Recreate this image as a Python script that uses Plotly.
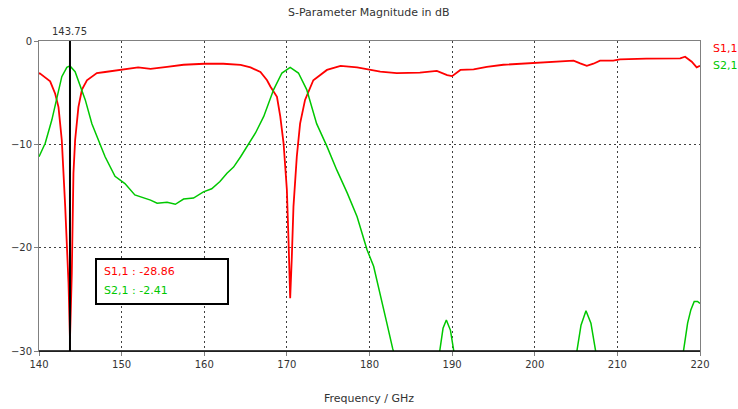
import plotly.graph_objects as go

# S1,1 (reflection) data, GHz / dB
s11_freq = [140.0, 140.1, 141.35, 141.96, 142.36, 142.76, 143.17, 143.37, 143.57, 143.75, 143.97, 144.17,
            144.37, 144.77, 145.2, 145.8, 147.0, 148.0, 150.0, 152.0, 153.5, 154.3, 155.5, 157.5, 160.0,
            162.3, 164.4, 165.6, 166.8, 167.6, 168.0, 168.8, 169.2, 169.6, 170.0, 170.2, 170.4, 170.6,
            170.8, 171.2, 171.6, 172.2, 173.2, 174.85, 176.5, 178.5, 180.5, 181.3, 183.3, 186.1, 188.15,
            189.4, 190.0, 191.0, 192.6, 194.2, 196.2, 198.2, 200.2, 202.7, 204.7, 205.5, 206.3, 207.1,
            207.9, 209.5, 210.3, 213.5, 217.6, 218.2, 219.0, 219.6, 220.0]
s11_db = [-3.2, -3.13, -3.9, -5.1, -6.4, -9.6, -16.0, -19.3, -23.4, -28.86, -22.5, -12.8,
          -9.6, -6.4, -4.7, -3.8, -3.1, -3.0, -2.75, -2.55, -2.7, -2.6, -2.5, -2.3, -2.2,
          -2.2, -2.3, -2.55, -3.0, -3.8, -4.4, -5.4, -7.3, -9.9, -14.4, -19.3, -24.9, -20.9,
          -16.0, -11.2, -8.0, -5.7, -3.8, -2.8, -2.4, -2.55, -2.9, -2.97, -3.1, -3.07, -2.9,
          -3.3, -3.4, -2.8, -2.74, -2.5, -2.3, -2.2, -2.16, -2.0, -1.9, -2.16, -2.4, -2.2,
          -1.9, -1.9, -1.77, -1.7, -1.68, -1.52, -2.0, -2.55, -2.4]

# S2,1 (transmission) data, GHz / dB
s21_freq = [140.0, 140.75, 141.55, 142.15, 142.76, 143.37, 143.75, 144.37, 144.98, 145.6, 146.4, 147.2,
            148.0, 149.2, 150.4, 151.6, 152.8, 153.5, 154.3, 155.5, 156.5, 157.5, 158.7, 159.9, 160.9,
            161.9, 162.75, 163.55, 164.4, 165.2, 166.2, 167.2, 168.4, 169.4, 170.4, 171.4, 172.4, 173.6,
            174.85, 176.05, 177.3, 178.5, 179.7, 180.5, 181.3, 182.1, 182.8, 183.5, 185.0, 186.5, 188.0,
            188.5, 188.9, 189.3, 189.8, 190.2, 191.0, 193.0, 196.0, 199.0, 202.0, 204.5, 205.1, 205.6,
            206.2, 206.8, 207.3, 208.0, 211.0, 214.0, 217.0, 218.0, 218.5, 218.9, 219.3, 219.7, 220.0]
s21_db = [-11.2, -9.9, -7.65, -5.4, -3.45, -2.55, -2.41, -2.97, -4.4, -5.7, -8.0, -9.6,
          -11.2, -13.1, -13.8, -14.9, -15.2, -15.4, -15.7, -15.6, -15.8, -15.3, -15.2, -14.6, -14.3,
          -13.6, -12.8, -12.2, -11.2, -10.2, -8.9, -7.3, -4.7, -3.1, -2.55, -3.1, -4.7, -8.0,
          -10.2, -12.5, -14.7, -17.0, -20.2, -21.8, -24.4, -27.3, -29.75, -32.0, -36.0, -36.0, -31.5,
          -30.0, -27.8, -27.0, -28.0, -30.0, -34.0, -40.0, -42.0, -40.0, -36.0, -31.0, -30.0, -27.5,
          -26.1, -27.3, -30.0, -33.0, -38.0, -36.0, -31.0, -30.0, -27.3, -26.0, -25.2, -25.2, -25.4]

marker_freq = 143.75
marker_labels = ["S1,1 : -28.86", "S2,1 : -2.41"]
series_names = ["S1,1", "S2,1"]
colors = ["#ff0000", "#00c800"]

x_ticks = [140, 150, 160, 170, 180, 190, 200, 210, 220]
y_ticks = [0, -10, -20, -30]

FONT = "DejaVu Sans"

fig = go.Figure()
fig.add_trace(go.Scatter(x=s11_freq, y=s11_db, mode="lines", name=series_names[0],
                         line=dict(color=colors[0], width=1.8), showlegend=False))
fig.add_trace(go.Scatter(x=s21_freq, y=s21_db, mode="lines", name=series_names[1],
                         line=dict(color=colors[1], width=1.5), showlegend=False))

W, H = 738, 409
L, R, T, B = 39, 38, 41, 58
pw, ph = W - L - R, H - T - B


def px(x):
    return (x - L) / pw


def py(y):
    return (H - B - y) / ph


axis_common = dict(showline=True, linecolor="#808080", linewidth=1, mirror=True,
                   showgrid=True, gridcolor="#404040", gridwidth=1, griddash="2px,3px",
                   zeroline=False, ticks="outside", ticklen=4, tickcolor="#808080",
                   tickfont=dict(family=FONT, size=10, color="#333333"))

fig.update_xaxes(range=[140, 220], tickvals=x_ticks, **axis_common)
fig.update_yaxes(range=[-30, 0], tickvals=y_ticks, **axis_common)

shapes = [
    # black bottom axis
    dict(type="line", xref="paper", yref="paper", x0=0, x1=1, y0=0, y1=0,
         line=dict(color="#000000", width=1.5), layer="above"),
    # marker line
    dict(type="line", xref="x", yref="paper", x0=marker_freq, x1=marker_freq, y0=0, y1=1,
         line=dict(color="#000000", width=2), layer="above"),
    # readout box
    dict(type="rect", xref="paper", yref="paper", x0=px(96), x1=px(228), y0=py(304), y1=py(259),
         line=dict(color="#000000", width=2), fillcolor="#ffffff", layer="above"),
]

annotations = [
    dict(text="S-Parameter Magnitude in dB", xref="paper", yref="paper", x=px(369), y=py(12),
         showarrow=False, font=dict(family=FONT, size=11, color="#333333"),
         xanchor="center", yanchor="middle"),
    dict(text="Frequency / GHz", xref="paper", yref="paper", x=px(369), y=py(398),
         showarrow=False, font=dict(family=FONT, size=11, color="#333333"),
         xanchor="center", yanchor="middle"),
    dict(text=f"{marker_freq:.2f}", xref="x", yref="paper", x=marker_freq, y=py(32),
         showarrow=False, font=dict(family=FONT, size=10, color="#333333"),
         xanchor="center", yanchor="middle"),
    dict(text=series_names[0], xref="paper", yref="paper", x=px(711), y=py(49),
         showarrow=False, font=dict(family=FONT, size=11, color=colors[0]),
         xanchor="left", yanchor="middle"),
    dict(text=series_names[1], xref="paper", yref="paper", x=px(711), y=py(65),
         showarrow=False, font=dict(family=FONT, size=11, color=colors[1]),
         xanchor="left", yanchor="middle"),
    dict(text=marker_labels[0], xref="paper", yref="paper", x=px(102), y=py(271),
         showarrow=False, font=dict(family=FONT, size=11, color=colors[0]),
         xanchor="left", yanchor="middle"),
    dict(text=marker_labels[1], xref="paper", yref="paper", x=px(102), y=py(290),
         showarrow=False, font=dict(family=FONT, size=11, color=colors[1]),
         xanchor="left", yanchor="middle"),
]

fig.update_layout(width=W, height=H, margin=dict(l=L, r=R, t=T, b=B),
                  paper_bgcolor="#ffffff", plot_bgcolor="#ffffff",
                  shapes=shapes, annotations=annotations, showlegend=False,
                  font=dict(family=FONT, size=10, color="#333333"))

fig.write_html("out.html", config={"displayModeBar": False},
               post_script="document.body.style.margin='0';document.body.style.overflow='hidden';")
